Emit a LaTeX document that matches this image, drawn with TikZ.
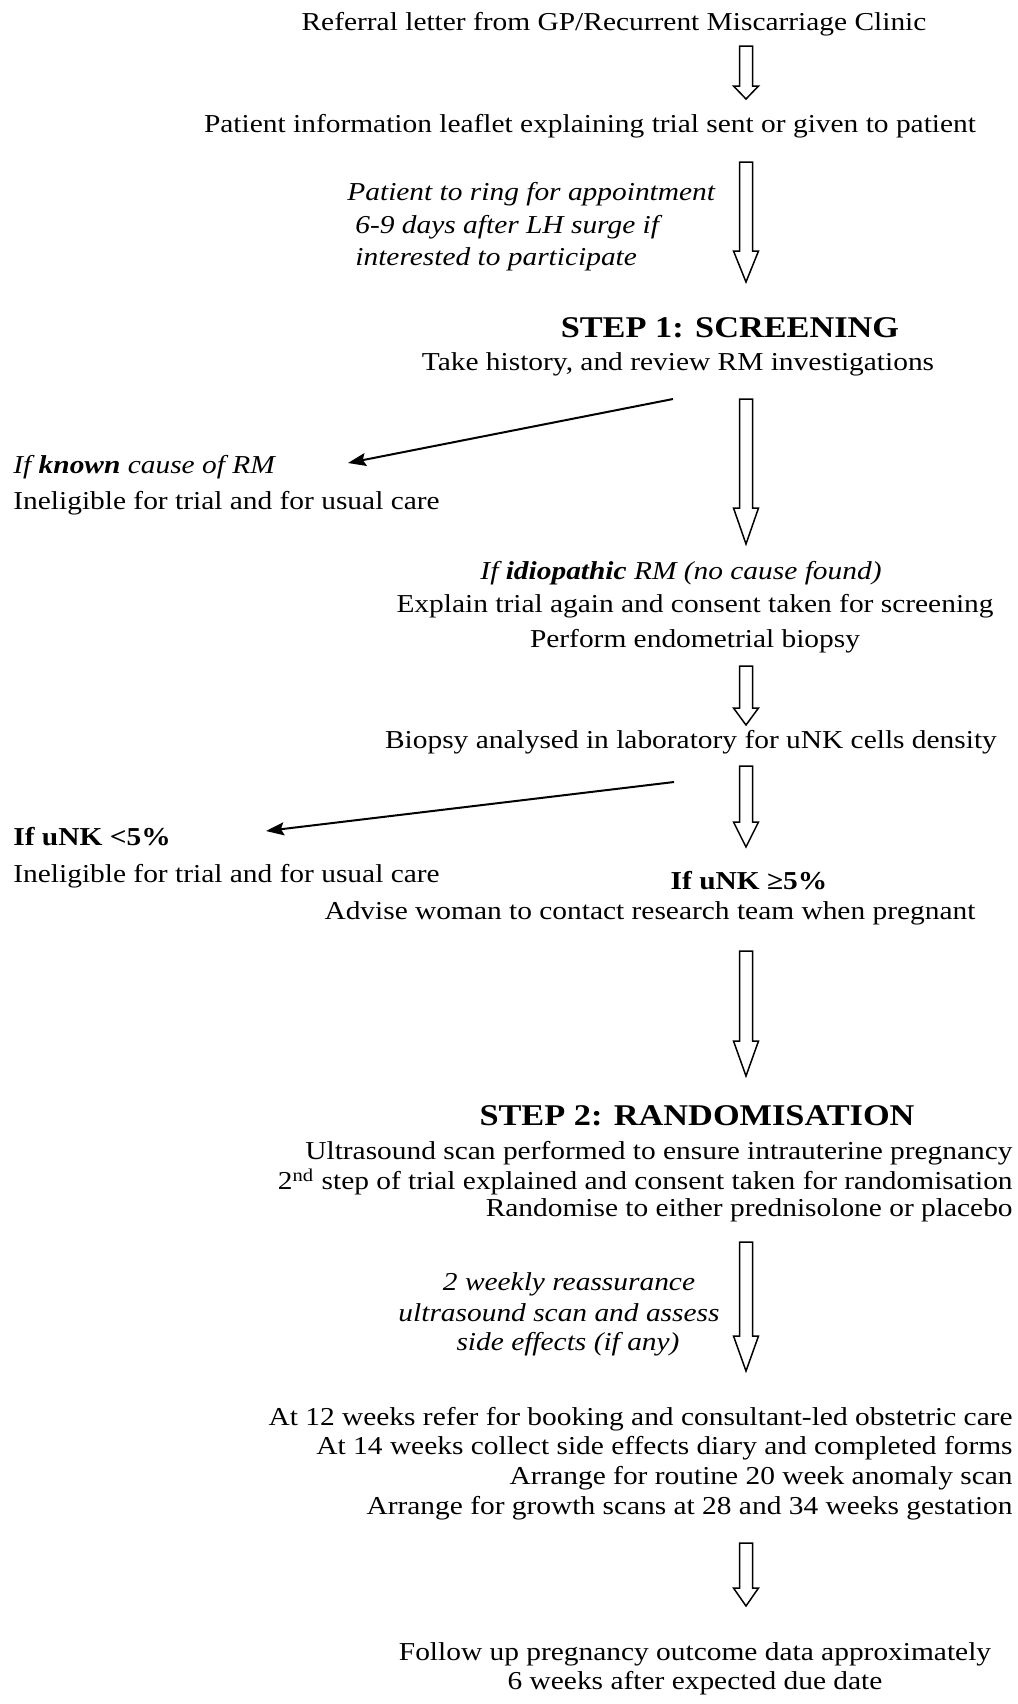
\documentclass[tikz,border=0pt]{standalone}
\usepackage{fontspec}
\setmainfont{Liberation Serif}[FakeStretch=1.14]
\usetikzlibrary{arrows.meta}
\newcommand{\bodysize}{\fontsize{12.9}{14.85}\selectfont}
\newcommand{\headsize}{\fontsize{15.05}{17}\selectfont\bfseries}
\newcommand{\blockarrow}[4]{%
  \draw[hollow] (#1-6.5,#2) -- (#1+6.5,#2) -- (#1+6.5,#3) -- (#1+12.5,#3) -- (#1,#4)
    -- (#1-12.5,#3) -- (#1-6.5,#3) -- cycle;}
\tikzset{
  txt/.style={inner sep=0pt, font=\bodysize},
  itxt/.style={inner sep=0pt, font=\bodysize\itshape},
  btxt/.style={inner sep=0pt, font=\bodysize\bfseries},
  head/.style={inner sep=0pt, font=\headsize},
  hollow/.style={draw=black, line width=0.75pt, fill=white, line join=miter},
  blackarrow/.style={-{Stealth[length=9pt,width=6.5pt,inset=1.5pt]}, line width=1pt},
}
\begin{document}
\begin{tikzpicture}[x=0.5pt,y=-0.5pt]
\useasboundingbox (0,0) rectangle (1018,1704);
% texts
\node[txt] (referral) at (614,24) {Referral letter from GP/Recurrent Miscarriage Clinic};
\node[txt] (leaflet) at (590,126) {Patient information leaflet explaining trial sent or given to patient};
\node[itxt, anchor=west] (ring1) at (347,194) {Patient to ring for appointment};
\node[itxt, anchor=west] (ring2) at (355,227) {6-9 days after LH surge if};
\node[itxt, anchor=west] (ring3) at (355,259) {interested to participate};
\node[head] (step1) at (730,328) {STEP 1: SCREENING};
\node[txt] (history) at (678,364) {Take history, and review RM investigations};
\node[itxt, anchor=west] (known1) at (13,467) {If \textbf{known} cause of RM};
\node[txt, anchor=west] (known2) at (13,503) {Ineligible for trial and for usual care};
\node[itxt] (idio) at (681,573) {If \textbf{idiopathic} RM (no cause found)};
\node[txt] (explain) at (695,606) {Explain trial again and consent taken for screening};
\node[txt] (perform) at (695,641) {Perform endometrial biopsy};
\node[txt] (biopsy) at (691,742) {Biopsy analysed in laboratory for uNK cells density};
\node[btxt, anchor=west] (lt1) at (13,837) {If uNK <5\%};
\node[txt, anchor=west] (lt2) at (13,876) {Ineligible for trial and for usual care};
\node[btxt] (ge1) at (749,881) {If uNK ≥5\%};
\node[txt] (advise) at (650,913) {Advise woman to contact research team when pregnant};
\node[head] (step2) at (697,1116) {STEP 2: RANDOMISATION};
\node[txt, anchor=east] (us) at (1013,1153) {Ultrasound scan performed to ensure intrauterine pregnancy};
\node[txt, anchor=east] (second) at (1013,1182) {2\textsuperscript{nd} step of trial explained and consent taken for randomisation};
\node[txt, anchor=east] (rand) at (1013,1210) {Randomise to either prednisolone or placebo};
\node[itxt] (wk1) at (569,1284) {2 weekly reassurance};
\node[itxt] (wk2) at (559,1313) {ultrasound scan and assess};
\node[itxt] (wk3) at (568,1344) {side effects (if any)};
\node[txt, anchor=east] (a12) at (1013,1419) {At 12 weeks refer for booking and consultant-led obstetric care};
\node[txt, anchor=east] (a14) at (1013,1448) {At 14 weeks collect side effects diary and completed forms};
\node[txt, anchor=east] (a20) at (1013,1478) {Arrange for routine 20 week anomaly scan};
\node[txt, anchor=east] (a28) at (1013,1508) {Arrange for growth scans at 28 and 34 weeks gestation};
\node[txt] (fu1) at (695,1654) {Follow up pregnancy outcome data approximately};
\node[txt] (fu2) at (695,1683) {6 weeks after expected due date};
% hollow arrows
\blockarrow{746}{46}{86}{99}
\blockarrow{746}{162}{251}{282}
\blockarrow{746}{399}{508}{544}
\blockarrow{746}{666}{708}{725}
\blockarrow{746}{766}{822}{847}
\blockarrow{746}{951}{1041}{1076}
\blockarrow{746}{1242}{1336}{1371}
\blockarrow{746}{1543}{1588}{1606}
% black arrows
\coordinate (b1s) at (673,399);
\coordinate (b1e) at (348,463);
\coordinate (b2s) at (674,782);
\coordinate (b2e) at (266,831);
\draw[blackarrow] (b1s) -- (b1e);
\draw[blackarrow] (b2s) -- (b2e);
\end{tikzpicture}
\end{document}
